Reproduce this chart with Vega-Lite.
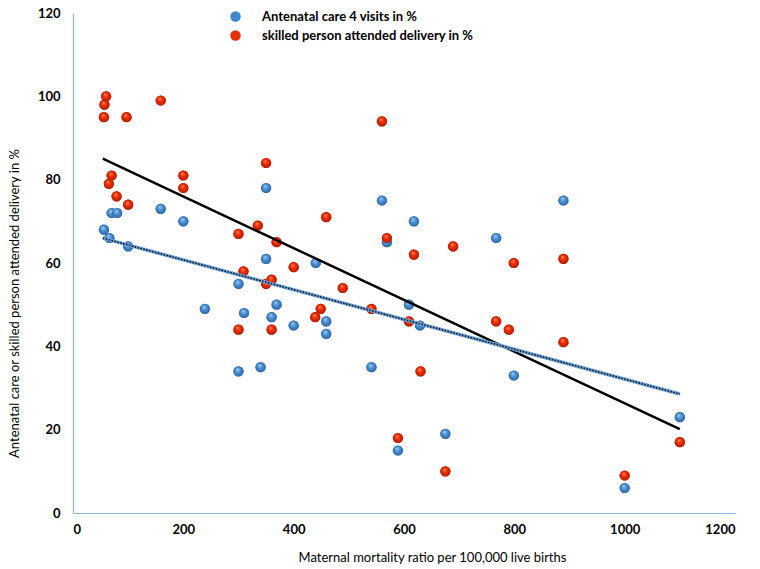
{
  "$schema": "https://vega.github.io/schema/vega-lite/v6.json",
  "width": 662,
  "height": 500,
  "autosize": {"type": "none"},
  "padding": {"left": 73, "top": 13, "right": 25, "bottom": 56},
  "background": "white",
  "config": {
    "view": {"stroke": null},
    "font": "Lato",
    "axis": {
      "grid": false,
      "ticks": false,
      "domainColor": "#8FB4DC",
      "domainWidth": 1.2,
      "labelFont": "Lato",
      "labelFontSize": 13,
      "labelFontWeight": "bold",
      "labelColor": "#000000",
      "titleFont": "Lato",
      "titleFontSize": 13,
      "titleFontWeight": "normal",
      "titleColor": "#000000"
    }
  },
  "datasets": {
    "pts": [
      {"series": "Antenatal care 4 visits in %", "x": 56, "y": 68},
      {"series": "Antenatal care 4 visits in %", "x": 66, "y": 66},
      {"series": "Antenatal care 4 visits in %", "x": 70, "y": 72},
      {"series": "Antenatal care 4 visits in %", "x": 80, "y": 72},
      {"series": "Antenatal care 4 visits in %", "x": 100, "y": 64},
      {"series": "Antenatal care 4 visits in %", "x": 159, "y": 73},
      {"series": "Antenatal care 4 visits in %", "x": 200, "y": 70},
      {"series": "Antenatal care 4 visits in %", "x": 239, "y": 49},
      {"series": "Antenatal care 4 visits in %", "x": 300, "y": 55},
      {"series": "Antenatal care 4 visits in %", "x": 300, "y": 34},
      {"series": "Antenatal care 4 visits in %", "x": 310, "y": 48},
      {"series": "Antenatal care 4 visits in %", "x": 340, "y": 35},
      {"series": "Antenatal care 4 visits in %", "x": 350, "y": 78},
      {"series": "Antenatal care 4 visits in %", "x": 350, "y": 61},
      {"series": "Antenatal care 4 visits in %", "x": 360, "y": 47},
      {"series": "Antenatal care 4 visits in %", "x": 369, "y": 50},
      {"series": "Antenatal care 4 visits in %", "x": 400, "y": 45},
      {"series": "Antenatal care 4 visits in %", "x": 440, "y": 60},
      {"series": "Antenatal care 4 visits in %", "x": 459, "y": 46},
      {"series": "Antenatal care 4 visits in %", "x": 459, "y": 43},
      {"series": "Antenatal care 4 visits in %", "x": 541, "y": 35},
      {"series": "Antenatal care 4 visits in %", "x": 560, "y": 75},
      {"series": "Antenatal care 4 visits in %", "x": 569, "y": 65},
      {"series": "Antenatal care 4 visits in %", "x": 589, "y": 15},
      {"series": "Antenatal care 4 visits in %", "x": 609, "y": 50},
      {"series": "Antenatal care 4 visits in %", "x": 618, "y": 70},
      {"series": "Antenatal care 4 visits in %", "x": 629, "y": 45},
      {"series": "Antenatal care 4 visits in %", "x": 675, "y": 19},
      {"series": "Antenatal care 4 visits in %", "x": 767, "y": 66},
      {"series": "Antenatal care 4 visits in %", "x": 799, "y": 33},
      {"series": "Antenatal care 4 visits in %", "x": 889, "y": 75},
      {"series": "Antenatal care 4 visits in %", "x": 1000, "y": 6},
      {"series": "Antenatal care 4 visits in %", "x": 1100, "y": 23},
      {"series": "skilled person attended delivery in %", "x": 56, "y": 95},
      {"series": "skilled person attended delivery in %", "x": 57, "y": 98},
      {"series": "skilled person attended delivery in %", "x": 60, "y": 100},
      {"series": "skilled person attended delivery in %", "x": 65, "y": 79},
      {"series": "skilled person attended delivery in %", "x": 70, "y": 81},
      {"series": "skilled person attended delivery in %", "x": 79, "y": 76},
      {"series": "skilled person attended delivery in %", "x": 97, "y": 95},
      {"series": "skilled person attended delivery in %", "x": 100, "y": 74},
      {"series": "skilled person attended delivery in %", "x": 159, "y": 99},
      {"series": "skilled person attended delivery in %", "x": 200, "y": 81},
      {"series": "skilled person attended delivery in %", "x": 200, "y": 78},
      {"series": "skilled person attended delivery in %", "x": 300, "y": 67},
      {"series": "skilled person attended delivery in %", "x": 300, "y": 44},
      {"series": "skilled person attended delivery in %", "x": 309, "y": 58},
      {"series": "skilled person attended delivery in %", "x": 335, "y": 69},
      {"series": "skilled person attended delivery in %", "x": 350, "y": 84},
      {"series": "skilled person attended delivery in %", "x": 350, "y": 55},
      {"series": "skilled person attended delivery in %", "x": 360, "y": 56},
      {"series": "skilled person attended delivery in %", "x": 360, "y": 44},
      {"series": "skilled person attended delivery in %", "x": 369, "y": 65},
      {"series": "skilled person attended delivery in %", "x": 400, "y": 59},
      {"series": "skilled person attended delivery in %", "x": 439, "y": 47},
      {"series": "skilled person attended delivery in %", "x": 449, "y": 49},
      {"series": "skilled person attended delivery in %", "x": 459, "y": 71},
      {"series": "skilled person attended delivery in %", "x": 489, "y": 54},
      {"series": "skilled person attended delivery in %", "x": 541, "y": 49},
      {"series": "skilled person attended delivery in %", "x": 560, "y": 94},
      {"series": "skilled person attended delivery in %", "x": 569, "y": 66},
      {"series": "skilled person attended delivery in %", "x": 589, "y": 18},
      {"series": "skilled person attended delivery in %", "x": 609, "y": 46},
      {"series": "skilled person attended delivery in %", "x": 618, "y": 62},
      {"series": "skilled person attended delivery in %", "x": 630, "y": 34},
      {"series": "skilled person attended delivery in %", "x": 675, "y": 10},
      {"series": "skilled person attended delivery in %", "x": 689, "y": 64},
      {"series": "skilled person attended delivery in %", "x": 767, "y": 46},
      {"series": "skilled person attended delivery in %", "x": 790, "y": 44},
      {"series": "skilled person attended delivery in %", "x": 799, "y": 60},
      {"series": "skilled person attended delivery in %", "x": 889, "y": 61},
      {"series": "skilled person attended delivery in %", "x": 889, "y": 41},
      {"series": "skilled person attended delivery in %", "x": 1000, "y": 9},
      {"series": "skilled person attended delivery in %", "x": 1100, "y": 17}
    ]
  },
  "data": {"name": "pts"},
  "encoding": {
    "x": {
      "field": "x",
      "type": "quantitative",
      "scale": {"domain": [0, 1200], "nice": false},
      "axis": {
        "title": "Maternal mortality ratio per 100,000 live births",
        "values": [0, 200, 400, 600, 800, 1000, 1200],
        "format": "d",
        "labelPadding": 10,
        "titleX": 359,
        "titleY": 44,
        "titleBaseline": "middle",
        "titleAnchor": "middle",
        "titleAlign": "center"
      }
    },
    "y": {
      "field": "y",
      "type": "quantitative",
      "scale": {"domain": [0, 120], "nice": false},
      "axis": {
        "title": "Antenatal care or skilled person attended delivery in %",
        "values": [0, 20, 40, 60, 80, 100, 120],
        "format": "d",
        "labelPadding": 13,
        "titleX": -59,
        "titleY": 290,
        "titleAngle": -90,
        "titleBaseline": "middle",
        "titleAlign": "center"
      }
    }
  },
  "layer": [
    {
      "mark": {"type": "circle", "size": 105, "opacity": 1},
      "encoding": {
        "color": {
          "field": "series",
          "type": "nominal",
          "scale": {
            "domain": ["Antenatal care 4 visits in %", "skilled person attended delivery in %"],
            "range": ["#3F86CE", "#E4300B"]
          },
          "legend": {
            "title": null,
            "orient": "none",
            "legendX": 156,
            "legendY": -3,
            "padding": 0,
            "symbolType": "circle",
            "symbolSize": 110,
            "symbolStrokeWidth": 0,
            "labelFont": "Lato",
            "labelFontSize": 13,
            "labelFontWeight": "bold",
            "labelColor": "#000000",
            "labelOffset": 20,
            "labelLimit": 0,
            "rowPadding": 5
          }
        }
      }
    },
    {
      "transform": [{"filter": "datum.series === 'Antenatal care 4 visits in %'"}],
      "mark": {
        "type": "circle",
        "size": 105,
        "opacity": 1,
        "color": {
          "gradient": "radial",
          "x1": 0.4, "y1": 0.3, "r1": 0,
          "x2": 0.5, "y2": 0.5, "r2": 0.55,
          "stops": [
            {"offset": 0, "color": "#A8CFF2"},
            {"offset": 0.45, "color": "#4B90D6"},
            {"offset": 1, "color": "#2A619E"}
          ]
        }
      }
    },
    {
      "transform": [{"filter": "datum.series === 'skilled person attended delivery in %'"}],
      "mark": {
        "type": "circle",
        "size": 105,
        "opacity": 1,
        "color": {
          "gradient": "radial",
          "x1": 0.4, "y1": 0.3, "r1": 0,
          "x2": 0.5, "y2": 0.5, "r2": 0.55,
          "stops": [
            {"offset": 0, "color": "#FF8A5C"},
            {"offset": 0.45, "color": "#EE2A05"},
            {"offset": 1, "color": "#A81E06"}
          ]
        }
      }
    },
    {
      "transform": [
        {"filter": "datum.series === 'skilled person attended delivery in %'"},
        {"regression": "y", "on": "x", "extent": [54, 1100]}
      ],
      "mark": {"type": "line", "color": "#000000", "strokeWidth": 2.5}
    },
    {
      "transform": [
        {"filter": "datum.series === 'Antenatal care 4 visits in %'"},
        {"regression": "y", "on": "x", "extent": [54, 1100]}
      ],
      "mark": {"type": "line", "color": "#6AA3DA", "strokeWidth": 3.5}
    },
    {
      "transform": [
        {"filter": "datum.series === 'Antenatal care 4 visits in %'"},
        {"regression": "y", "on": "x", "extent": [54, 1100]}
      ],
      "mark": {"type": "line", "color": "#111111", "strokeWidth": 1.6, "strokeDash": [1.5, 1.5]}
    }
  ]
}
